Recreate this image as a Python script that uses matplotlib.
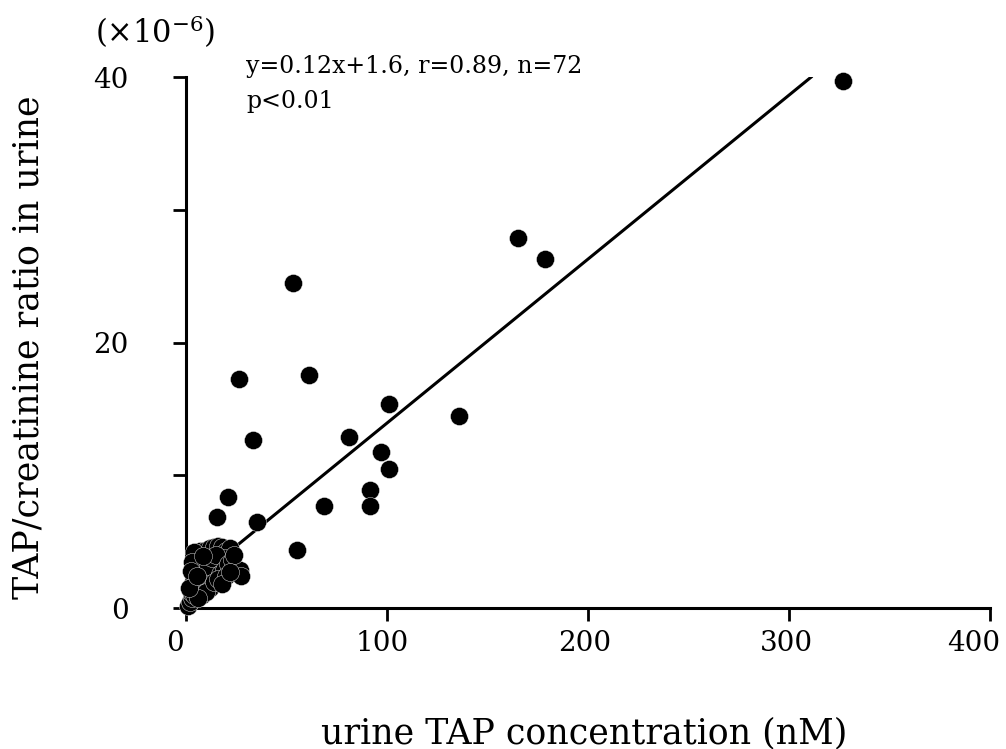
import matplotlib
matplotlib.use("Agg")
import matplotlib.pyplot as plt
import matplotlib.transforms as mtransforms

# isolated points (nM, x10^-6)
x_main = [326.9, 165.2, 178.6, 53.2, 26.4, 61.2, 101.0, 135.8, 33.3, 81.1,
          97.0, 101.0, 91.5, 91.5, 68.7, 20.9, 15.4, 35.3, 55.2]
y_main = [39.7, 27.9, 26.3, 24.5, 17.3, 17.6, 15.4, 14.5, 12.7, 12.9,
          11.8, 10.5, 8.9, 7.7, 7.7, 8.4, 6.9, 6.5, 4.4]

# dense cluster near the origin
x_low = [1, 2, 3, 2.5, 4, 5, 3.5, 6, 4.5, 7, 5, 8, 6, 9, 7, 10, 12, 14, 16, 18,
         20, 22, 4, 3, 2.5, 9, 11, 13, 15, 17, 19, 11, 13, 15, 17, 19, 21, 23,
         12, 8, 10, 14, 16, 20, 27, 27.5, 6, 24, 18, 1.5, 5.5, 8.5, 22]
y_low = [0.2, 0.5, 0.8, 1.2, 1.0, 1.5, 2.0, 1.8, 2.6, 2.2, 3.2, 2.8, 3.8, 3.5,
         4.3, 4.4, 4.5, 4.6, 4.7, 4.6, 4.3, 4.5, 4.2, 3.5, 2.8, 1.5, 2.0, 2.5,
         3.0, 3.5, 3.8, 3.2, 3.8, 4.0, 2.6, 2.9, 3.3, 3.6, 1.5, 1.0, 1.2, 2.0,
         2.2, 2.4, 2.9, 2.4, 0.8, 4.0, 1.8, 1.5, 2.4, 3.9, 2.7]

# regression line y=0.12x+1.6 (drawn up to top of axis)
line_x = [0, 311]
line_y = [1.6, 40]

xticks = [0, 100, 200, 300, 400]
yticks = [0, 10, 20, 30, 40]
ylabels = ['0', '', '20', '', '40']

plt.rcParams['font.family'] = ['DejaVu Serif']
plt.rcParams['mathtext.fontset'] = 'dejavuserif'

fig = plt.figure(figsize=(10.06, 7.49), dpi=100)
ax = fig.add_axes([0.185, 0.188, 0.799, 0.709])

ax.plot(line_x, line_y, color='black', lw=2.2, zorder=2)
ax.plot(x_low + x_main, y_low + y_main, 'o', color='black', ms=13,
        mec='white', mew=0.3, clip_on=False, zorder=3)

ax.set_xlim(0, 400)
ax.set_ylim(0, 40)
ax.set_xticks(xticks)
ax.set_yticks(yticks)
ax.set_yticklabels(ylabels)

for s in ['top', 'right']:
    ax.spines[s].set_visible(False)
for s in ['left', 'bottom']:
    ax.spines[s].set_linewidth(2.2)

ax.tick_params(axis='both', direction='out', length=9.5, width=2.0, labelsize=20)
ax.tick_params(axis='y', pad=32)
ax.tick_params(axis='x', pad=6)

# the scanned labels sit a bit left of their ticks
shifts = [-11, -5, -3, -3, -16]
for lab, dx in zip(ax.get_xticklabels(), shifts):
    off = mtransforms.ScaledTranslation(dx / 100, 0, fig.dpi_scale_trans)
    lab.set_transform(lab.get_transform() + off)

fig.text(0.5805, 0.008, 'urine TAP concentration (nM)', fontsize=25,
         ha='center', va='baseline')
fig.text(0.028, 0.536, 'TAP/creatinine ratio in urine', fontsize=25,
         rotation=90, ha='center', va='center')

fig.text(0.094, 0.9426, r'$(\times10^{-6})$', fontsize=22, va='baseline')
fig.text(0.245, 0.9025, 'y=0.12x+1.6, r=0.89, n=72', fontsize=17,
         va='baseline')
fig.text(0.245, 0.856, 'p<0.01', fontsize=17, va='baseline')

fig.savefig('out.png', dpi=100, facecolor='white')
